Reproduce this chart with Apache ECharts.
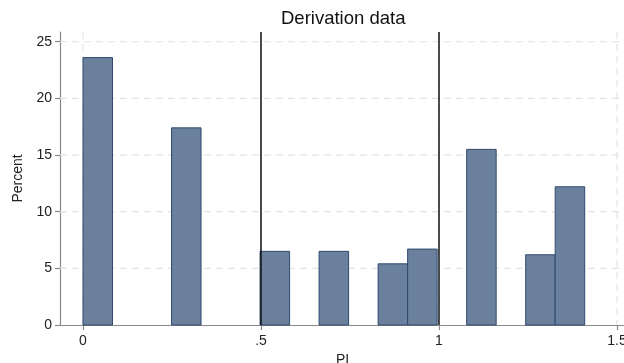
<!DOCTYPE html>
<html><head><meta charset="utf-8">
<script src="https://cdn.jsdelivr.net/npm/echarts@6/dist/echarts.min.js"></script>
<style>html,body{margin:0;padding:0;background:#fff}#c{width:624px;height:363px}</style>
</head><body><div id="c"></div>
<script>
// ---- data ----
const binStart = [0, 0.2487, 0.4974, 0.6632, 0.829, 0.9119, 1.0777, 1.2435, 1.3264];
const binWidth = 0.0829;
const percent = [23.6, 17.4, 6.5, 6.5, 5.4, 6.7, 15.5, 6.2, 12.2];
const xTicks = [0, 0.5, 1, 1.5];
const xTickLabels = ['0', '.5', '1', '1.5'];
const yTicks = [0, 5, 10, 15, 20, 25];
const cutoffs = [0.5, 1];

const FONT = "'Liberation Sans', Arial, sans-serif";
const barData = binStart.map((s, i) => [s, s + binWidth, percent[i]]);
const hGrid = yTicks.filter(v => v > 0).map(v => [0, v]);
const vGrid = xTicks.map(v => [v, 0]);

const chart = echarts.init(document.getElementById('c'), null, {renderer: 'canvas'});
chart.setOption({
  animation: false,
  backgroundColor: '#fff',
  title: {
    text: 'Derivation data', left: 281, top: 9, padding: 0,
    textStyle: {fontFamily: FONT, fontSize: 18.5, fontWeight: 'normal', color: '#111'}
  },
  grid: {left: 60, right: -1, top: 32, bottom: 38, containLabel: false, outerBoundsMode: 'none'},
  xAxis: {
    type: 'value', min: -0.0646, max: 1.5225,
    name: 'PI', nameLocation: 'middle', nameGap: 24,
    nameTextStyle: {fontFamily: FONT, fontSize: 14, color: '#222'},
    axisLine: {show: true, onZero: false, lineStyle: {color: '#8a8a8a', width: 1.2}},
    axisTick: {show: true, customValues: xTicks, length: 5, lineStyle: {color: '#8a8a8a', width: 1.2}},
    axisLabel: {
      customValues: xTicks, margin: 9, fontFamily: FONT, fontSize: 14, color: '#222',
      formatter: v => { const i = xTicks.indexOf(v); return i >= 0 ? xTickLabels[i] : ''; }
    },
    splitLine: {show: false}
  },
  yAxis: {
    type: 'value', min: 0, max: 25.86,
    name: 'Percent', nameLocation: 'middle', nameGap: 30,
    nameTextStyle: {fontFamily: FONT, fontSize: 14, color: '#222'},
    axisLine: {show: true, onZero: false, lineStyle: {color: '#8a8a8a', width: 1.2}},
    axisTick: {show: true, customValues: yTicks, length: 5, lineStyle: {color: '#8a8a8a', width: 1.2}},
    axisLabel: {customValues: yTicks, margin: 8, fontFamily: FONT, fontSize: 14, color: '#222'},
    splitLine: {show: false}
  },
  series: [
    {
      type: 'custom', z: 1, silent: true, clip: false,
      data: hGrid.concat(vGrid.map(d => [d[0], -1])),
      renderItem: (params, api) => {
        const cs = params.coordSys;
        const a = api.value(0), b = api.value(1);
        if (b >= 0) {
          const y = api.coord([0, b])[1];
          return {type: 'line', shape: {x1: cs.x, y1: y, x2: cs.x + cs.width, y2: y},
            style: {stroke: '#e3e3e3', lineWidth: 1.2, lineDash: [7, 5]}};
        }
        const x = api.coord([a, 0])[0];
        return {type: 'line', shape: {x1: x, y1: cs.y, x2: x, y2: cs.y + cs.height},
          style: {stroke: '#e3e3e3', lineWidth: 1.2, lineDash: [7, 5]}};
      }
    },
    {
      type: 'custom', z: 2, clip: false,
      data: barData,
      encode: {x: [0, 1], y: 2},
      renderItem: (params, api) => {
        const p0 = api.coord([api.value(0), api.value(2)]);
        const p1 = api.coord([api.value(1), 0]);
        return {type: 'rect',
          shape: {x: p0[0], y: p0[1], width: p1[0] - p0[0], height: p1[1] - p0[1]},
          style: {fill: '#6a809c', stroke: '#2f4a6e', lineWidth: 1}};
      }
    },
    {
      type: 'custom', z: 3, silent: true, clip: false,
      data: cutoffs.map(v => [v, 0]),
      renderItem: (params, api) => {
        const cs = params.coordSys;
        const x = api.coord([api.value(0), 0])[0];
        return {type: 'line', shape: {x1: x, y1: cs.y, x2: x, y2: cs.y + cs.height},
          style: {stroke: '#111', lineWidth: 1.5}};
      }
    }
  ]
});
</script></body></html>
